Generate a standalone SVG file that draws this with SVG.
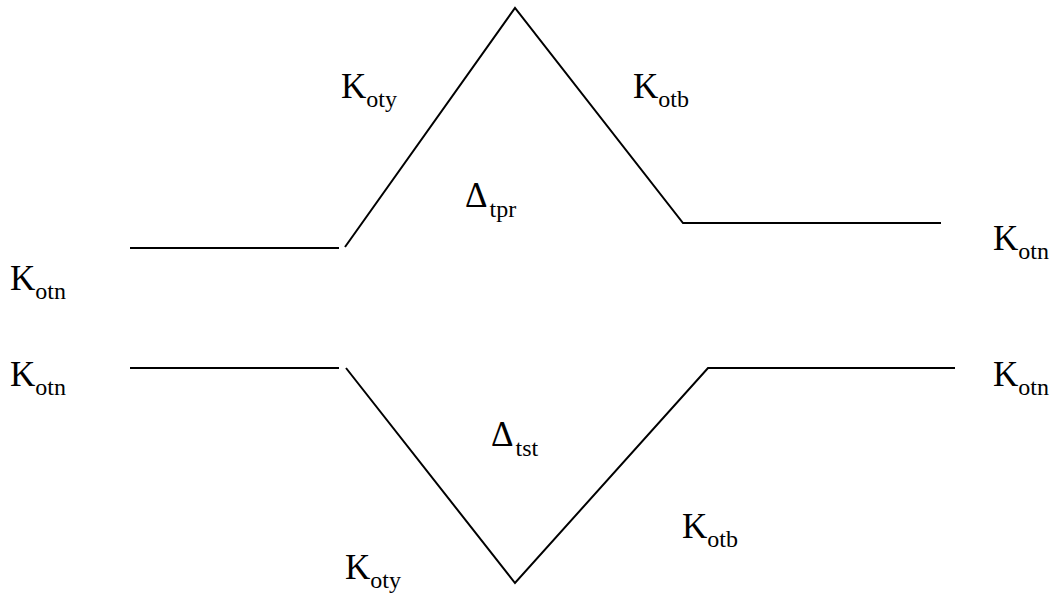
<svg xmlns="http://www.w3.org/2000/svg" width="1056" height="595" viewBox="0 0 1056 595">
<style>
.ln{fill:none;stroke:#000;stroke-width:2}
.t{font-size:35px;fill:#000}
.s{font-size:24px}
</style>
<rect width="1056" height="595" fill="#fff"/>
<g id="connectors">
<line class="ln" x1="130" y1="248" x2="339" y2="248"/>
<polyline class="ln" points="345,247 515,8 683,223 941,223"/>
<line class="ln" x1="130" y1="368" x2="339" y2="368"/>
<polyline class="ln" points="346,368 515,583 708,368 955,368"/>
</g>
<g font-family="'Liberation Serif', 'Times New Roman', Times, 'DejaVu Serif', serif">
<g id="label-otn-tl"><text class="t" x="10" y="290">K<tspan class="s" dy="9">otn</tspan></text></g>
<g id="label-otn-bl"><text class="t" x="10" y="386">K<tspan class="s" dy="9">otn</tspan></text></g>
<g id="label-otn-tr"><text class="t" x="993" y="250">K<tspan class="s" dy="9">otn</tspan></text></g>
<g id="label-otn-br"><text class="t" x="993" y="386">K<tspan class="s" dy="9">otn</tspan></text></g>
<g id="label-oty-t"><text class="t" x="341" y="98">K<tspan class="s" dy="9">oty</tspan></text></g>
<g id="label-otb-t"><text class="t" x="633" y="98">K<tspan class="s" dy="9">otb</tspan></text></g>
<g id="label-tpr"><text class="t" x="465" y="207">Δ<tspan class="s" dx="2" dy="10">tpr</tspan></text></g>
<g id="label-tst"><text class="t" x="491" y="446">Δ<tspan class="s" dx="2" dy="10">tst</tspan></text></g>
<g id="label-oty-b"><text class="t" x="345" y="579">K<tspan class="s" dy="9">oty</tspan></text></g>
<g id="label-otb-b"><text class="t" x="682" y="538">K<tspan class="s" dy="9">otb</tspan></text></g>
</g>
</svg>
